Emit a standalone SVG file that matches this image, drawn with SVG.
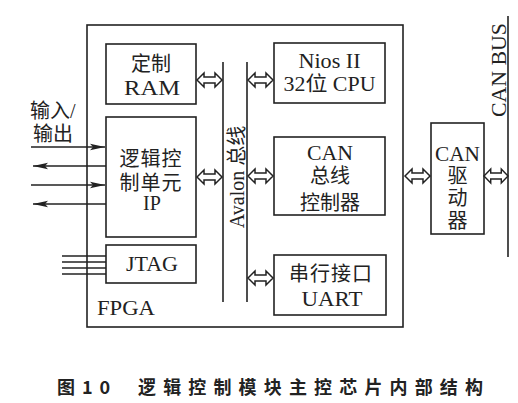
<svg xmlns="http://www.w3.org/2000/svg" xmlns:xlink="http://www.w3.org/1999/xlink" width="518" height="403" viewBox="0 0 518 403">
<style>
.box{fill:none;stroke:#222;stroke-width:1.6}
.ln{fill:none;stroke:#222;stroke-width:1.6}
.t{font-family:"Liberation Serif","Noto Sans CJK SC",serif;font-size:20px;fill:#222;text-anchor:middle}
.tl{font-family:"Liberation Serif","Noto Sans CJK SC",serif;font-size:20px;fill:#222}
.cap{font-family:"Noto Sans CJK SC","Liberation Sans",sans-serif;font-size:18px;font-weight:bold;fill:#222}
.dbl{fill:#fff;stroke:#222;stroke-width:1.5;stroke-linejoin:miter}
</style>
<defs>
<path id="dbl" class="dbl" d="M0,0 L7,-7 L7,-3 L18,-3 L18,-7 L25,0 L18,7 L18,3 L7,3 L7,7 Z"/>
<marker id="ah" markerWidth="16" markerHeight="8" refX="15" refY="4" orient="auto" markerUnits="userSpaceOnUse">
<path d="M0,0.8 L15,4 L0,7.2 L3,4 Z" fill="#222"/>
</marker>
</defs>
<rect width="518" height="403" fill="#fff"/>

<g id="fpga">
<rect class="box" x="87" y="25" width="316" height="302"/>
<text class="tl" x="97" y="315" textLength="58" lengthAdjust="spacingAndGlyphs">FPGA</text>
</g>

<g id="ram">
<rect class="box" x="106" y="44" width="90" height="60"/>
<text class="t" x="151" y="71">定制</text>
<text class="t" x="152" y="95" textLength="56" lengthAdjust="spacingAndGlyphs">RAM</text>
</g>

<g id="logic-ip">
<rect class="box" x="106" y="117" width="90" height="120"/>
<text class="t" x="151" y="166" letter-spacing="1">逻辑控</text>
<text class="t" x="151" y="190" letter-spacing="1">制单元</text>
<text class="t" x="152" y="210">IP</text>
</g>

<g id="jtag">
<rect class="box" x="106" y="245" width="90" height="38"/>
<text class="t" x="152" y="271" textLength="52" lengthAdjust="spacingAndGlyphs">JTAG</text>
</g>

<g id="avalon">
<text class="t" transform="translate(244,177) rotate(-90)" font-size="19">Avalon 总线</text>
</g>

<g id="nios">
<rect class="box" x="274" y="43" width="111" height="60"/>
<text class="t" x="329.5" y="68" textLength="62" lengthAdjust="spacingAndGlyphs">Nios II</text>
<text class="t" x="329.5" y="91" textLength="92" lengthAdjust="spacingAndGlyphs">32位 CPU</text>
</g>

<g id="can-ctrl">
<rect class="box" x="274" y="137" width="111" height="78"/>
<text class="t" x="330" y="160" textLength="46" lengthAdjust="spacingAndGlyphs">CAN</text>
<text class="t" x="330" y="183">总线</text>
<text class="t" x="330" y="210">控制器</text>
</g>

<g id="uart">
<rect class="box" x="274" y="255" width="112" height="60"/>
<text class="t" x="331" y="281" letter-spacing="1">串行接口</text>
<text class="t" x="332" y="306" textLength="61" lengthAdjust="spacingAndGlyphs">UART</text>
</g>

<g id="can-driver">
<rect class="box" x="431" y="123" width="53" height="111"/>
<text class="t" x="457.5" y="161" textLength="45" lengthAdjust="spacingAndGlyphs">CAN</text>
<text class="t" x="457.5" y="183">驱</text>
<text class="t" x="457.5" y="205">动</text>
<text class="t" x="457.5" y="228">器</text>
</g>

<g id="can-bus">
<text class="t" transform="translate(506,70) rotate(-90)" textLength="94" lengthAdjust="spacingAndGlyphs">CAN BUS</text>
</g>

<g id="io-label">
<text class="tl" x="30" y="118">输入/</text>
<text class="tl" x="33" y="141">输出</text>
</g>

<g id="connectors">
<line class="ln" x1="223" y1="62" x2="223" y2="302"/>
<line class="ln" x1="247" y1="62" x2="247" y2="302"/>
<line class="ln" x1="508" y1="16" x2="508" y2="257"/>
<use xlink:href="#dbl" transform="translate(197,80)"/>
<use xlink:href="#dbl" transform="translate(197,177)"/>
<use xlink:href="#dbl" transform="translate(248,80)"/>
<use xlink:href="#dbl" transform="translate(248,176)"/>
<use xlink:href="#dbl" transform="translate(248,278)"/>
<use xlink:href="#dbl" transform="translate(405,176)"/>
<use xlink:href="#dbl" transform="translate(484,176) scale(0.96,1)"/>
<line class="ln" x1="31" y1="147" x2="105" y2="147" marker-end="url(#ah)"/>
<line class="ln" x1="106" y1="166" x2="33" y2="166" marker-end="url(#ah)"/>
<line class="ln" x1="31" y1="185" x2="105" y2="185" marker-end="url(#ah)"/>
<line class="ln" x1="106" y1="204" x2="33" y2="204" marker-end="url(#ah)"/>
<line class="ln" x1="62" y1="256" x2="106" y2="256"/>
<line class="ln" x1="62" y1="262" x2="106" y2="262"/>
<line class="ln" x1="62" y1="268" x2="106" y2="268"/>
<line class="ln" x1="62" y1="274" x2="106" y2="274"/>
</g>

<g id="caption">
<text class="cap" x="57" y="394">图</text>
<text class="cap" x="82" y="394" textLength="28" lengthAdjust="spacing">10</text>
<text class="cap" x="138" y="394" textLength="345" lengthAdjust="spacing">逻辑控制模块主控芯片内部结构</text>
</g>
</svg>
